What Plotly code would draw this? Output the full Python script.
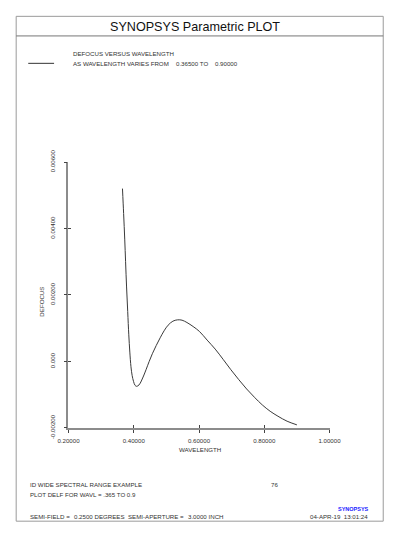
import plotly.graph_objects as go

# ---- data ----
wavelength = [0.3655, 0.3690, 0.3724, 0.3750, 0.3780, 0.3815, 0.3848, 0.3880, 0.3915, 0.3950,
              0.3993, 0.4040, 0.4088, 0.4160, 0.4233, 0.4300, 0.4377, 0.4470, 0.4570, 0.4690,
              0.4810, 0.4930, 0.5053, 0.5200, 0.5340, 0.5480, 0.5630, 0.5820, 0.6015, 0.6250,
              0.6497, 0.6740, 0.6977, 0.7220, 0.7460, 0.7700, 0.7940, 0.8180, 0.8420, 0.8700,
              0.9000]
defocus = [0.00520, 0.00445, 0.00368, 0.00300, 0.00224, 0.00150, 0.00080, 0.00028, -0.00016, -0.00042,
           -0.00060, -0.00072, -0.00075, -0.00071, -0.00059, -0.00044, -0.00025, -0.00001, 0.00023, 0.00048,
           0.00071, 0.00092, 0.00109, 0.00121, 0.00125, 0.00124, 0.00117, 0.00105, 0.00090, 0.00064,
           0.00037, 0.00006, -0.00025, -0.00055, -0.00083, -0.00108, -0.00131, -0.00150, -0.00165, -0.00180,
           -0.00191]

x_tickvals = [0.2, 0.4, 0.6, 0.8, 1.0]
x_ticktext = ["0.20000", "0.40000", "0.60000", "0.80000", "1.00000"]
y_tickvals = [-0.002, 0.0, 0.002, 0.004, 0.006]
y_ticktext = ["-0.00200", "0.000", "0.00200", "0.00400", "0.00600"]

W, H = 399, 536
FONT = "Arial, Liberation Sans, sans-serif"
TXT = "#333333"
AX = "#8c8c8c"
FS = 6.15

def px(x):
    return x / W

def py(y):
    return 1 - y / H

fig = go.Figure()
fig.add_trace(go.Scatter(x=wavelength, y=defocus, mode="lines", line=dict(color="#3a3a3a", width=1, shape="spline"),
                         hoverinfo="skip", showlegend=False))
# invisible trace carrying the overlay axes that draw the inner half of each tick
fig.add_trace(go.Scatter(x=[0.2], y=[-0.002], xaxis="x2", yaxis="y2", mode="markers",
                         marker=dict(opacity=0), hoverinfo="skip", showlegend=False))

xdom = [px(61), px(338)]
ydom = [py(434.3), py(156)]

tick_font = dict(family=FONT, size=FS, color=TXT)

fig.update_layout(
    width=W, height=H, margin=dict(l=0, r=0, t=0, b=0),
    paper_bgcolor="white", plot_bgcolor="white",
    font=dict(family=FONT, color=TXT),
    xaxis=dict(domain=xdom, range=[0.2, 1.0], tickvals=x_tickvals, ticktext=x_ticktext,
               ticks="outside", ticklen=3, tickcolor="#444", tickwidth=1, ticklabelstandoff=3,
               showline=True, linecolor=AX, linewidth=1.5, showgrid=False, zeroline=False,
               tickfont=tick_font, anchor="y", fixedrange=True),
    yaxis=dict(domain=ydom, range=[-0.002, 0.006], tickvals=y_tickvals, ticktext=y_ticktext,
               ticks="outside", ticklen=3, tickcolor="#444", tickwidth=1, tickangle=-90, ticklabelstandoff=6,
               showline=True, linecolor=AX, linewidth=1.5, showgrid=False, zeroline=False,
               tickfont=tick_font, anchor="x", fixedrange=True),
    xaxis2=dict(domain=xdom, range=[0.2, 1.0], tickvals=x_tickvals, overlaying="x", anchor="y2",
                ticks="inside", ticklen=3, tickcolor="#444", showticklabels=False, showline=False,
                showgrid=False, zeroline=False, fixedrange=True),
    yaxis2=dict(domain=ydom, range=[-0.002, 0.006], tickvals=y_tickvals, overlaying="y", anchor="x2",
                ticks="inside", ticklen=3, tickcolor="#444", showticklabels=False, showline=False,
                showgrid=False, zeroline=False, fixedrange=True),
)

shapes = [
    dict(type="rect", xref="paper", yref="paper", x0=px(5.5), x1=px(395), y0=py(532), y1=py(3.5),
         line=dict(color="#9a9a9a", width=1)),
    dict(type="line", xref="paper", yref="paper", x0=px(5.5), x1=px(395), y0=py(24), y1=py(24),
         line=dict(color="#777777", width=1)),
    dict(type="line", xref="paper", yref="paper", x0=px(18.3), x1=px(45.7), y0=py(52.7), y1=py(52.7),
         line=dict(color="#333333", width=1)),
]
fig.update_layout(shapes=shapes)

def ann(text, x, y, size=FS, xanchor="left", color=TXT, angle=0, bold=False):
    t = f"<b>{text}</b>" if bold else text
    fig.add_annotation(text=t, x=px(x), y=py(y), xref="paper", yref="paper", showarrow=False,
                       xanchor=xanchor, yanchor="middle", textangle=angle,
                       font=dict(family=FONT, size=size, color=color))

ann("SYNOPSYS Parametric PLOT", 195, 14.5, size=12.6, xanchor="center", color="#111111")
ann("DEFOCUS VERSUS WAVELENGTH", 63.3, 42.3)
ann("AS WAVELENGTH VARIES FROM", 63.3, 52.7)
ann("0.36500 TO", 173.3, 52.7)
ann("0.90000", 214.3, 52.7)
ann("WAVELENGTH", 201, 457, xanchor="center")
ann("DEFOCUS", 32, 302, xanchor="center", angle=-90)
ann("ID WIDE SPECTRAL RANGE EXAMPLE", 18.3, 494)
ann("76", 273.3, 494)
ann("PLOT DELF FOR WAVL = .365 TO 0.9", 18.3, 504.5)
ann("SYNOPSYS", 382, 519, size=5.5, xanchor="right", color="#1a1aff", bold=True)
ann("SEMI-FIELD =", 18.3, 526.7)
ann("0.2500 DEGREES", 64.3, 526.7)
ann("SEMI-APERTURE =", 121.7, 526.7)
ann("3.0000 INCH", 185.5, 526.7)
ann("04-APR-19&nbsp;&nbsp;13:01:24", 380.5, 526.7, xanchor="right")

css = ("var s=document.createElement('style');"
       "s.textContent='html,body{margin:0!important;padding:0!important;overflow:hidden!important;}';"
       "document.head.appendChild(s);")

fig.write_html("out.html", config={"displayModeBar": False}, post_script=css)
